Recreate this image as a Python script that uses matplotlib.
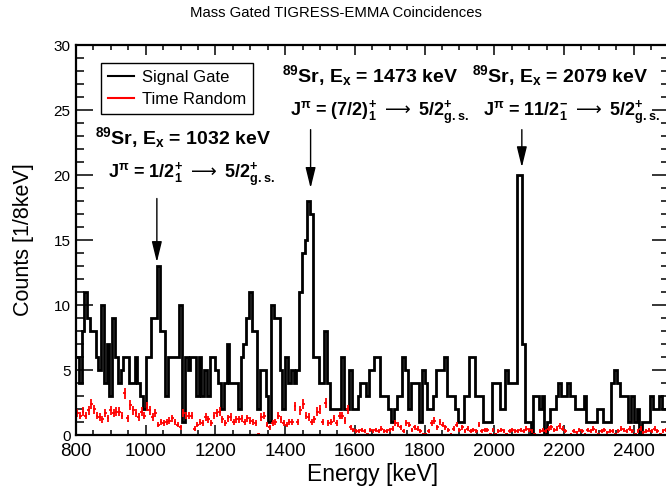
import numpy as np
import matplotlib
matplotlib.use("Agg")
import matplotlib.pyplot as plt
from matplotlib.lines import Line2D
from matplotlib.ticker import MultipleLocator

plt.rcParams['font.family'] = ['Liberation Sans', 'DejaVu Sans']
plt.rcParams['mathtext.fontset'] = 'custom'
plt.rcParams['mathtext.rm'] = 'Liberation Sans'
plt.rcParams['mathtext.bf'] = 'Liberation Sans:bold'
plt.rcParams['mathtext.sf'] = 'DejaVu Sans'
plt.rcParams['mathtext.default'] = 'regular'

# 8 keV bins starting at 800 keV
bin_width = 8
e_start = 800

# signal gate counts per bin
signal = [
    6, 4, 8, 11, 9, 8, 8, 6, 5, 10,
    4, 7, 3, 9, 6, 4, 5, 6, 6, 4,
    4, 6, 4, 3, 2, 6, 6, 9, 9, 13,
    8, 8, 3, 6, 6, 6, 6, 10, 1, 6,
    5, 6, 6, 3, 6, 3, 5, 3, 6, 6,
    5, 4, 2, 4, 7, 4, 4, 4, 2, 6,
    7, 9, 11, 8, 8, 2, 5, 5, 3, 1,
    10, 9, 9, 5, 2, 6, 4, 5, 4, 5,
    11, 14, 15, 18, 17, 6, 6, 4, 4, 8,
    4, 2, 2, 2, 2, 6, 2, 2, 5, 2,
    2, 3, 4, 4, 3, 5, 5, 6, 6, 3,
    3, 3, 2, 1, 2, 3, 3, 6, 5, 2,
    4, 4, 4, 1, 5, 4, 2, 2, 3, 5,
    5, 5, 6, 3, 3, 3, 2, 1, 1, 3,
    3, 6, 6, 3, 3, 3, 1, 1, 1, 4,
    4, 4, 2, 2, 5, 4, 4, 4, 20, 20,
    7, 1, 1, 0, 3, 3, 2, 3, 0, 1,
    2, 2, 3, 4, 3, 3, 4, 3, 3, 2,
    2, 2, 3, 1, 1, 1, 1, 2, 2, 1,
    1, 1, 4, 5, 4, 3, 3, 3, 1, 3,
    1, 2, 0, 1, 1, 1, 3, 2, 2, 3,
    2, 2,
]

# time random (scaled) per bin
random_bg = [
    1.7, 1.5, 1.8, 1.5, 1.9, 2.4, 2.0, 1.5, 1.4, 1.2,
    1.7, 1.3, 1.9, 1.7, 1.8, 1.8, 1.5, 3.2, 1.3, 2.3,
    1.9, 1.7, 1.4, 1.8, 1.5, 2.2, 1.9, 1.4, 1.7, 0.8,
    1.0, 0.9, 1.0, 1.1, 1.3, 1.0, 0.8, 0.6, 1.7, 1.5,
    1.5, 1.5, 0.5, 0.8, 1.0, 0.9, 1.4, 1.2, 0.9, 1.5,
    1.7, 1.8, 1.2, 0.9, 1.3, 1.4, 1.0, 1.2, 1.2, 1.3,
    1.0, 1.3, 1.1, 1.0, 0.9, 0.1, 1.4, 1.5, 0.8, 0.6,
    0.9, 1.0, 1.5, 1.2, 0.9, 0.8, 1.0, 1.0, 2.2, 1.0,
    1.9, 2.4, 1.5, 1.4, 1.0, 1.2, 1.8, 2.0, 1.0, 2.5,
    0.9, 1.0, 1.3, 0.9, 1.5, 1.5, 1.1, 2.0, 0.6, 0.4,
    0.3, 0.3, 0.4, 0.3, 0.1, 0.4, 0.3, 0.4, 0.3, 0.5,
    0.3, 0.3, 0.4, 0.5, 0.9, 0.8, 0.6, 0.3, 0.9, 0.8,
    0.4, 0.6, 0.5, 0.3, 0.1, 0.1, 0.3, 0.9, 1.1, 0.6,
    1.0, 0.8, 0.6, 0.4, 0.1, 0.5, 0.8, 0.4, 0.6, 0.3,
    0.5, 0.3, 0.4, 0.3, 0.8, 0.3, 0.4, 0.4, 0.1, 0.4,
    0.1, 0.3, 0.4, 0.3, 0.1, 0.3, 0.4, 0.3, 0.3, 0.4,
    0.3, 0.5, 0.4, 0.3, 0.1, 0.0, 0.3, 0.4, 0.3, 0.5,
    0.6, 0.4, 0.5, 0.7, 0.5, 0.3, 0.0, 0.1, 0.3, 0.2,
    0.4, 0.3, 0.1, 0.4, 0.3, 0.5, 0.3, 0.1, 0.3, 0.4,
    0.2, 0.3, 0.3, 0.1, 0.3, 0.5, 0.4, 0.3, 0.5, 0.3,
    0.1, 0.3, 0.5, 0.2, 0.3, 0.4, 0.3, 0.5, 0.3, 0.1,
    0.3, 0.4,
]

# peak labels: energy, level text, spin text
peaks = [1032, 1473, 2079]
level_txt = [r'$^{89}$Sr, E$_{x}$ = 1032 keV',
             r'$^{89}$Sr, E$_{x}$ = 1473 keV',
             r'$^{89}$Sr, E$_{x}$ = 2079 keV']
spin_txt = [r'J$^{\pi}$ = 1/2$_{1}^{+}\;\mathsf{\longrightarrow}\;$5/2$^{+}_{g.s.}$',
            r'J$^{\pi}$ = (7/2)$_{1}^{+}\;\mathsf{\longrightarrow}\;$5/2$^{+}_{g.s.}$',
            r'J$^{\pi}$ = 11/2$_{1}^{-}\;\mathsf{\longrightarrow}\;$5/2$^{+}_{g.s.}$']


def main():
    sig = np.array(signal, dtype=float)
    bg = np.array(random_bg)
    edges = e_start + bin_width * np.arange(len(sig) + 1)
    centers = edges[:-1] + bin_width / 2

    fig = plt.figure(figsize=(6.66, 4.91), dpi=100)
    ax = fig.add_axes([0.1141, 0.114, 0.8898, 0.794])

    ax.stairs(sig, edges, color='black', lw=2.0, baseline=None)
    ax.errorbar(centers, bg, yerr=np.sqrt(bg * 0.06), xerr=bin_width / 2,
                fmt='none', ecolor='red', elinewidth=1.3, capsize=0)

    ax.set_xlim(800, 2500)
    ax.set_ylim(0, 30)

    ax.xaxis.set_major_locator(MultipleLocator(200))
    ax.xaxis.set_minor_locator(MultipleLocator(50))
    ax.yaxis.set_major_locator(MultipleLocator(5))
    ax.yaxis.set_minor_locator(MultipleLocator(1))
    ax.tick_params(which='both', direction='in', top=True, right=True, width=1.1)
    ax.tick_params(axis='x', which='major', length=7, labelsize=13.5, pad=6)
    ax.tick_params(axis='x', which='minor', length=3.5)
    ax.tick_params(axis='y', which='major', length=12, labelsize=11, pad=4)
    ax.tick_params(axis='y', which='minor', length=5.5)
    for sp in ax.spines.values():
        sp.set_linewidth(1.6)

    ax.set_xlabel('Energy [keV]', fontsize=16.5, labelpad=2)
    ax.set_ylabel('Counts [1/8keV]', fontsize=15.5, labelpad=14)
    fig.text(0.505, 0.973, 'Mass Gated TIGRESS-EMMA Coincidences',
             ha='center', va='center', fontsize=10.7)

    # annotation layout (data coords)
    txt_pos = [(855, 22.9, 892, 20.0),
               (1391, 27.7, 1414, 24.8),
               (1936, 27.7, 1967, 24.8)]
    arrows = [(18.2, 13.3), (23.5, 19.0), (23.5, 20.6)]
    for e, t1, t2, (x1, y1, x2, y2), (ya, yb) in zip(peaks, level_txt, spin_txt,
                                                      txt_pos, arrows):
        ax.text(x1, y1, t1, fontsize=14, fontweight='bold', va='center', ha='left')
        ax.text(x2, y2, t2, fontsize=13, fontweight='bold', va='center', ha='left')
        ax.annotate('', xy=(e, yb), xytext=(e, ya),
                    arrowprops=dict(arrowstyle='-|>,head_length=0.9,head_width=0.22',
                                    color='black', lw=1.0, mutation_scale=14,
                                    shrinkA=0, shrinkB=0))

    handles = [Line2D([], [], color='black', lw=1.5),
               Line2D([], [], color='red', lw=1.5)]
    leg = ax.legend(handles, ['Signal Gate', 'Time Random'], loc='upper left',
                    bbox_to_anchor=(0.042, 0.954), fontsize=12, frameon=True,
                    fancybox=False, edgecolor='black', framealpha=1,
                    handlelength=1.6, handletextpad=0.45, labelspacing=0.45,
                    borderpad=0.4, borderaxespad=0)
    leg.get_frame().set_linewidth(1.0)

    fig.savefig('out.png', dpi=100)


if __name__ == '__main__':
    main()
